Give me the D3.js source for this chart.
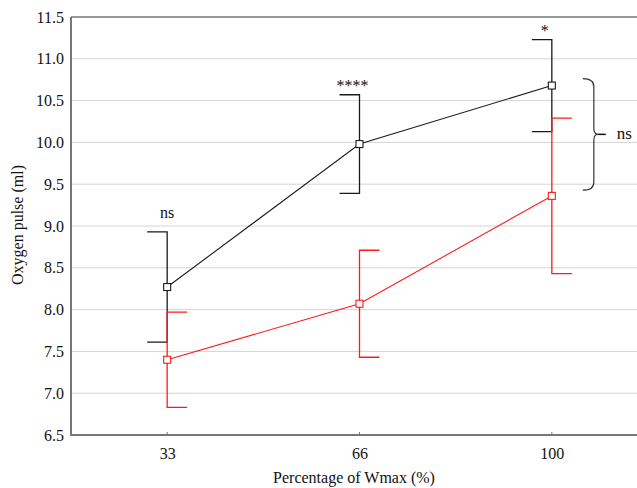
<!DOCTYPE html>
<html>
<head>
<meta charset="utf-8">
<script src="https://cdn.jsdelivr.net/npm/d3@7"></script>
<style>
  html, body { margin: 0; padding: 0; background: #fff; }
  svg, svg text { font-family: 'Liberation Serif', 'Times New Roman', Times, serif !important; }
</style>
</head>
<body>
<svg id="chart" width="637" height="488"></svg>
<script>
// ---- data ----
const categories = ["33", "66", "100"];
const blackMean = [8.27, 9.98, 10.68];
const blackErr  = [0.66, 0.59, 0.55];
const redMean   = [7.40, 8.07, 9.36];
const redErr    = [0.57, 0.64, 0.93];
const yTicks    = [6.5, 7.0, 7.5, 8.0, 8.5, 9.0, 9.5, 10.0, 10.5, 11.0, 11.5];
const sigLabels = ["ns", "****", "*"];
const braceLabel = "ns";

// ---- layout ----
const svg = d3.select("#chart");
const pLeft = 71, pRight = 648, pTop = 17, pBottom = 435;
const FS = 16;

const x = d3.scalePoint().domain(categories).range([pLeft, pRight]).padding(0.5);
const y = d3.scaleLinear().domain([6.5, 11.5]).range([pBottom, pTop]);

// grid
svg.append("g").selectAll("line").data(yTicks.filter(d => d > 6.5 && d < 11.5)).join("line")
  .attr("x1", pLeft).attr("x2", 637)
  .attr("y1", d => y(d)).attr("y2", d => y(d))
  .attr("stroke", "#d4d4d4").attr("stroke-width", 1);

// top border
svg.append("line").attr("x1", pLeft).attr("x2", 637).attr("y1", y(11.5)).attr("y2", y(11.5))
  .attr("stroke", "#333").attr("stroke-width", 1);

// y axis
const yAxis = svg.append("g").attr("transform", `translate(${pLeft},0)`)
  .call(d3.axisLeft(y).tickValues(yTicks).tickFormat(d3.format(".1f")).tickSize(0).tickPadding(7));
yAxis.attr("font-family", null).attr("font-size", null);
yAxis.select(".domain").remove();
yAxis.selectAll("text").attr("font-size", FS).attr("fill", "#111");
svg.append("line").attr("x1", pLeft).attr("x2", pLeft).attr("y1", pTop).attr("y2", pBottom + 1)
  .attr("stroke", "#777").attr("stroke-width", 2);

// x axis
const xAxis = svg.append("g").attr("transform", `translate(0,${pBottom})`)
  .call(d3.axisBottom(x).tickSize(0).tickPadding(13));
xAxis.attr("font-family", null).attr("font-size", null);
xAxis.select(".domain").remove();
xAxis.selectAll("text").attr("font-size", FS).attr("fill", "#111");
svg.append("line").attr("x1", pLeft - 1).attr("x2", 637).attr("y1", pBottom).attr("y2", pBottom)
  .attr("stroke", "#777").attr("stroke-width", 2);
svg.append("g").selectAll("line").data(categories).join("line")
  .attr("x1", d => x(d)).attr("x2", d => x(d))
  .attr("y1", pBottom).attr("y2", pBottom - 3)
  .attr("stroke", "#777").attr("stroke-width", 1);

// axis titles
svg.append("text").attr("x", 354).attr("y", 483).attr("text-anchor", "middle")
  .attr("font-size", FS).attr("fill", "#111").text("Percentage of Wmax (%)");
svg.append("text").attr("transform", "translate(23,225) rotate(-90)").attr("text-anchor", "middle")
  .attr("font-size", FS).attr("fill", "#111").text("Oxygen pulse (ml)");

// series
function drawSeries(means, errs, color, side) {
  const g = svg.append("g");
  const pts = categories.map((c, i) => ({ c, m: means[i], e: errs[i] }));
  pts.forEach(p => {
    const cx = x(p.c);
    const cap = side * 20;
    g.append("path")
      .attr("d", `M${cx + cap},${y(p.m + p.e)}H${cx}V${y(p.m - p.e)}H${cx + cap}`)
      .attr("fill", "none").attr("stroke", color).attr("stroke-width", 1.3);
  });
  g.append("path").datum(pts)
    .attr("d", d3.line().x(p => x(p.c)).y(p => y(p.m)))
    .attr("fill", "none").attr("stroke", color).attr("stroke-width", 1.1);
  g.selectAll("rect").data(pts).join("rect")
    .attr("x", p => x(p.c) - 3.5).attr("y", p => y(p.m) - 3.5)
    .attr("width", 7).attr("height", 7)
    .attr("fill", "white").attr("stroke", color).attr("stroke-width", 1.1);
}
drawSeries(blackMean, blackErr, "#1a1a1a", -1);
drawSeries(redMean, redErr, "#ff1a1a", 1);

// significance labels above black error bars
svg.append("g").selectAll("text").data(categories).join("text")
  .attr("x", (d, i) => x(d) - (i === 0 ? 0 : 7))
  .attr("y", (d, i) => y(blackMean[i] + blackErr[i]) - (i === 0 ? 14 : 4))
  .attr("text-anchor", "middle").attr("font-size", FS)
  .attr("fill", "#111")
  .text((d, i) => sigLabels[i]);

// brace on right comparing the two series at 100
const bx = x("100") + 31;
const yTop = y(blackMean[2] - blackErr[2]) - 53;
const yBot = y(redMean[2] + redErr[2]) + 72;
const yMid = (yTop + yBot) / 2;
svg.append("path")
  .attr("d", `M${bx},${yTop} Q${bx + 11},${yTop} ${bx + 11},${yTop + 8} V${yMid - 6} Q${bx + 11},${yMid} ${bx + 15},${yMid} Q${bx + 11},${yMid} ${bx + 11},${yMid + 6} V${yBot - 8} Q${bx + 11},${yBot} ${bx},${yBot}`)
  .attr("fill", "none").attr("stroke", "#333").attr("stroke-width", 1.2);
svg.append("line").attr("x1", bx + 15).attr("x2", bx + 23).attr("y1", yMid).attr("y2", yMid)
  .attr("stroke", "#111").attr("stroke-width", 1.5);
svg.append("text").attr("x", bx + 34).attr("y", yMid + 5).attr("font-size", FS + 1).attr("fill", "#111")
  .text(braceLabel);
</script>
</body>
</html>
